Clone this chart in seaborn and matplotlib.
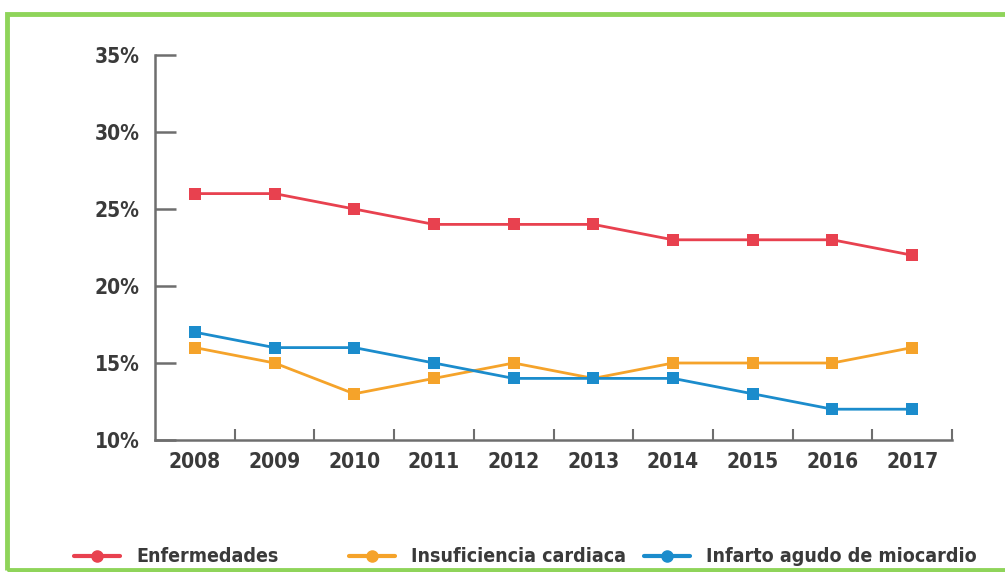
import numpy as np
import pandas as pd
import matplotlib
matplotlib.use('Agg')
import matplotlib.pyplot as plt
import seaborn as sns
from matplotlib.patches import Rectangle
from matplotlib.ticker import FixedLocator, FuncFormatter

years = ['2008', '2009', '2010', '2011', '2012', '2013', '2014', '2015', '2016', '2017']
enfermedades = [26, 26, 25, 24, 24, 24, 23, 23, 23, 22]
insuficiencia = [16, 15, 13, 14, 15, 14, 15, 15, 15, 16]
infarto = [17, 16, 16, 15, 14, 14, 14, 13, 12, 12]
series_names = ['Enfermedades', 'Insuficiencia cardiaca', 'Infarto agudo de miocardio']
colors = ['#e8414f', '#f5a32a', '#1b8ccc']

sns.set_theme(style='white')
plt.rcParams['font.family'] = ['DejaVu Sans']
plt.rcParams['font.stretch'] = 'condensed'

df = pd.DataFrame({'idx': list(range(len(years))) * 3,
                   'value': enfermedades + insuficiencia + infarto,
                   'serie': [s for s in series_names for _ in years]})

fig = plt.figure(figsize=(10.05, 5.72), dpi=100)
ax = fig.add_axes([155 / 1005, 1 - 440 / 572, (952 - 155) / 1005, (440 - 55) / 572])

sns.lineplot(data=df, x='idx', y='value', hue='serie', palette=colors,
             hue_order=series_names, marker='s', markersize=8, markeredgewidth=0,
             linewidth=2, ax=ax, legend=False)

ax.set_xlim(-0.5, len(years) - 0.5)
ax.set_ylim(10, 35)
ax.set_xlabel('')
ax.set_ylabel('')

axis_col = '#6e6e6e'
text_col = '#3a3a3a'
for side in ['top', 'right']:
    ax.spines[side].set_visible(False)
for side in ['left', 'bottom']:
    ax.spines[side].set_color(axis_col)
    ax.spines[side].set_linewidth(1.8)

fs = 15
ax.set_yticks([10, 15, 20, 25, 30, 35])
ax.yaxis.set_major_formatter(FuncFormatter(lambda v, p: f'{int(v)}%'))
ax.tick_params(axis='y', direction='in', length=15, width=1.8, color=axis_col,
               labelsize=fs, labelcolor=text_col, pad=11, left=True)
ax.set_xticks(range(len(years)))
ax.set_xticklabels(years)
ax.tick_params(axis='x', which='major', length=0, labelsize=fs, labelcolor=text_col, pad=9)
ax.xaxis.set_minor_locator(FixedLocator(np.arange(0.5, len(years), 1.0)))
ax.tick_params(axis='x', which='minor', direction='in', length=8, width=1.5,
               color=axis_col, bottom=True)
for lab in ax.get_xticklabels() + ax.get_yticklabels():
    lab.set_fontweight('bold')
    lab.set_fontstretch('condensed')

# legend: one entry per series at its own place along the bottom
legend_x = [66, 341, 636]
for name, c, x0 in zip(series_names, colors, legend_x):
    h = plt.Line2D([0], [0], color=c, lw=3, marker='o', markersize=8)
    fig.legend([h], [name], loc='center left', bbox_to_anchor=(x0 / 1005, 1 - 557 / 572),
               frameon=False, handlelength=2.4, handletextpad=0.8, borderaxespad=0,
               labelcolor=text_col, prop={'weight': 'bold', 'size': 14, 'stretch': 'condensed'})

# green frame
fig.patches.append(Rectangle((7 / 1005, 2 / 572), 1.0, 1 - 16 / 572, transform=fig.transFigure,
                             fill=False, edgecolor='#8fd45a', linewidth=3.5))

fig.savefig('out.png', dpi=100)
